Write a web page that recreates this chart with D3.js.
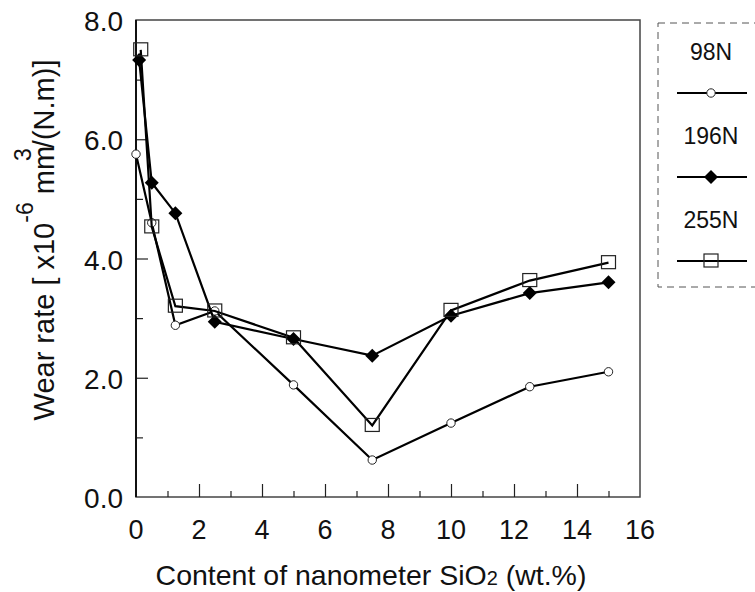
<!DOCTYPE html>
<html>
<head>
<meta charset="utf-8">
<script src="https://cdn.jsdelivr.net/npm/d3@7"></script>
<style>
  body { margin: 0; background: #fff; }
  text { font-family: "Liberation Sans", Arial, sans-serif; fill: #111; }
</style>
</head>
<body>
<svg width="755" height="592"></svg>
<script>
// data
const loads = ["98N", "196N", "255N"];
const content98 = [0, 0.5, 1.25, 2.5, 5, 7.5, 10, 12.5, 15];
const rate98 = [5.75, 4.6, 2.88, 3.12, 1.88, 0.62, 1.24, 1.85, 2.1];
const content196 = [0.1, 0.5, 1.25, 2.5, 5, 7.5, 10, 12.5, 15];
const rate196 = [7.33, 5.27, 4.76, 2.94, 2.65, 2.37, 3.04, 3.42, 3.6];
const content255 = [0.15, 0.5, 1.25, 2.5, 5, 7.5, 10, 12.5, 15];
const rate255 = [7.5, 4.53, 3.2, 3.12, 2.67, 1.2, 3.13, 3.63, 3.93];
const xTicks = [0, 2, 4, 6, 8, 10, 12, 14, 16];
const yTicks = [0, 2, 4, 6, 8];

const series = [
  { name: loads[0], xs: content98, ys: rate98, marker: "circle" },
  { name: loads[1], xs: content196, ys: rate196, marker: "diamond" },
  { name: loads[2], xs: content255, ys: rate255, marker: "square" }
];

const svg = d3.select("svg");
const plotLeft = 136, plotRight = 640, plotTop = 20, plotBottom = 497;

const x = d3.scaleLinear().domain([0, 16]).range([plotLeft, plotRight]);
const y = d3.scaleLinear().domain([0, 8]).range([plotBottom, plotTop]);

// frame
svg.append("rect")
  .attr("x", plotLeft).attr("y", plotTop)
  .attr("width", plotRight - plotLeft).attr("height", plotBottom - plotTop)
  .attr("fill", "none").attr("stroke", "#444").attr("stroke-width", 1.5);

// x axis, ticks pointing inward
const xAxis = svg.append("g").attr("transform", `translate(0,${plotBottom})`);
xAxis.call(d3.axisTop(x).tickValues(d3.range(1, 16, 2)).tickSize(6).tickFormat(""));
xAxis.append("g").call(d3.axisTop(x).tickValues(xTicks.slice(1, -1)).tickSize(13).tickFormat(""));
xAxis.selectAll(".domain").remove();
xAxis.selectAll("line").attr("stroke", "#222").attr("stroke-width", 1.2);
svg.append("g").selectAll("text").data(xTicks).join("text")
  .attr("x", d => x(d)).attr("y", 539)
  .attr("text-anchor", "middle")
  .attr("font-size", 27)
  .text(d => d);

// y axis, ticks pointing inward
const yAxis = svg.append("g").attr("transform", `translate(${plotLeft},0)`);
yAxis.call(d3.axisRight(y).tickValues(d3.range(1, 8, 2)).tickSize(7).tickFormat(""));
yAxis.append("g").call(d3.axisRight(y).tickValues(yTicks.slice(1, -1)).tickSize(12).tickFormat(""));
yAxis.selectAll(".domain").remove();
yAxis.selectAll("line").attr("stroke", "#222").attr("stroke-width", 1.2);
svg.append("line")
  .attr("x1", plotLeft).attr("x2", plotLeft).attr("y1", plotTop).attr("y2", plotBottom)
  .attr("stroke", "#111").attr("stroke-width", 2);
svg.append("g").selectAll("text").data(yTicks).join("text")
  .attr("x", 123).attr("y", d => y(d) + 11)
  .attr("text-anchor", "end")
  .attr("font-size", 28)
  .text(d => d.toFixed(1));

// axis titles
svg.append("text")
  .attr("x", 371).attr("y", 585)
  .attr("text-anchor", "middle")
  .attr("font-size", 28.5)
  .html('Content of nanometer SiO<tspan font-size="20">2</tspan> (wt.%)');

const yt = svg.append("text")
  .attr("transform", "translate(54,240) rotate(-90)")
  .attr("text-anchor", "middle")
  .attr("font-size", 29);
yt.append("tspan").text("Wear rate [ x10");
yt.append("tspan").attr("dy", -21).attr("font-size", 23).text("-6");
yt.append("tspan").attr("dy", 21).text(" mm");
yt.append("tspan").attr("dy", -23).attr("dx", -15).attr("font-size", 23).text("3");
yt.append("tspan").attr("dy", 23).text("/(N.m)]");

// markers
function drawMarker(g, type, cx, cy) {
  if (type === "circle") {
    g.append("circle").attr("cx", cx).attr("cy", cy).attr("r", 4.2)
      .attr("fill", "#fff").attr("stroke", "#222").attr("stroke-width", 1);
  } else if (type === "diamond") {
    g.append("path")
      .attr("d", `M${cx},${cy - 7}L${cx + 7},${cy}L${cx},${cy + 7}L${cx - 7},${cy}Z`)
      .attr("fill", "#000");
  } else {
    g.append("rect").attr("x", cx - 7).attr("y", cy - 7)
      .attr("width", 14).attr("height", 13)
      .attr("fill", "none").attr("stroke", "#222").attr("stroke-width", 1.2);
  }
}

const line = d3.line().x(d => x(d[0])).y(d => y(d[1]));
const plot = svg.append("g");
series.forEach(s => {
  const pts = s.xs.map((v, i) => [v, s.ys[i]]);
  plot.append("path").attr("d", line(pts))
    .attr("fill", "none").attr("stroke", "#000").attr("stroke-width", 2.2);
  pts.forEach(p => drawMarker(plot, s.marker, x(p[0]), y(p[1])));
});

// legend
svg.append("rect")
  .attr("x", 658).attr("y", 23).attr("width", 110).attr("height", 264)
  .attr("fill", "none").attr("stroke", "#555").attr("stroke-width", 1)
  .attr("stroke-dasharray", "7,5");
series.forEach((s, i) => {
  const ty = 60 + i * 84;
  svg.append("text").attr("x", 711).attr("y", ty)
    .attr("text-anchor", "middle").attr("font-size", 23).text(s.name);
  const ly = ty + 33;
  svg.append("line").attr("x1", 677).attr("x2", 747).attr("y1", ly).attr("y2", ly)
    .attr("stroke", "#000").attr("stroke-width", 2);
  drawMarker(svg, s.marker, 711, ly);
});
</script>
</body>
</html>
